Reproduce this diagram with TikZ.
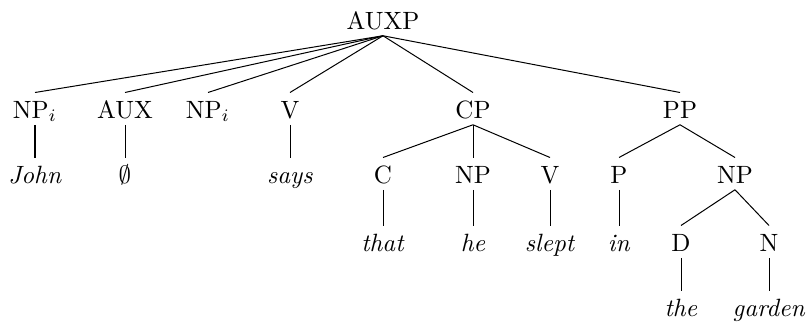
\documentclass[tikz,border=0pt]{standalone}
\begin{document}
\begin{tikzpicture}[x=0.01406cm,y=-0.01406cm,
  lbl/.style={anchor=base,inner sep=2.5pt,text height=7.5pt,text depth=0pt},
  edge/.style={line width=0.4pt}]
\useasboundingbox (0,0) rectangle (807,323);
% level 0
\node[lbl] (auxp) at (383,29) {AUXP};
% level 1
\node[lbl] (np1) at (35,118) {NP$_i$};
\node[lbl] (aux) at (125,118) {AUX};
\node[lbl] (np2) at (208,118) {NP$_i$};
\node[lbl] (v1) at (290,118) {V};
\node[lbl] (cp) at (473,118) {CP};
\node[lbl] (pp) at (680,118) {PP};
% level 2
\node[lbl] (john) at (35,183) {\textit{John}};
\node[lbl] (empty) at (125,183) {$\emptyset$};
\node[lbl] (says) at (290,183) {\textit{says}};
\node[lbl] (c) at (383,183) {C};
\node[lbl] (np3) at (473,183) {NP};
\node[lbl] (v2) at (550,183) {V};
\node[lbl] (p) at (619,183) {P};
\node[lbl] (np4) at (735,183) {NP};
% level 3
\node[lbl] (that) at (383,251) {\textit{that}};
\node[lbl] (he) at (473,251) {\textit{he}};
\node[lbl] (slept) at (550,251) {\textit{slept}};
\node[lbl] (in) at (619,251) {\textit{in}};
\node[lbl] (d) at (681,251) {D};
\node[lbl] (n) at (769,251) {N};
% level 4
\node[lbl] (the) at (681,316) {\textit{the}};
\node[lbl] (garden) at (769,316) {\textit{garden}};
% edges
\foreach \ch in {np1,aux,np2,v1,cp,pp} \draw[edge] (auxp.south) -- (\ch.north);
\draw[edge] (np1.south) -- (john.north);
\draw[edge] (aux.south) -- (empty.north);
\draw[edge] (v1.south) -- (says.north);
\foreach \ch in {c,np3,v2} \draw[edge] (cp.south) -- (\ch.north);
\foreach \ch in {p,np4} \draw[edge] (pp.south) -- (\ch.north);
\draw[edge] (c.south) -- (that.north);
\draw[edge] (np3.south) -- (he.north);
\draw[edge] (v2.south) -- (slept.north);
\draw[edge] (p.south) -- (in.north);
\draw[edge] (np4.south) -- (d.north);
\draw[edge] (np4.south) -- (n.north);
\draw[edge] (d.south) -- (the.north);
\draw[edge] (n.south) -- (garden.north);
\end{tikzpicture}
\end{document}
